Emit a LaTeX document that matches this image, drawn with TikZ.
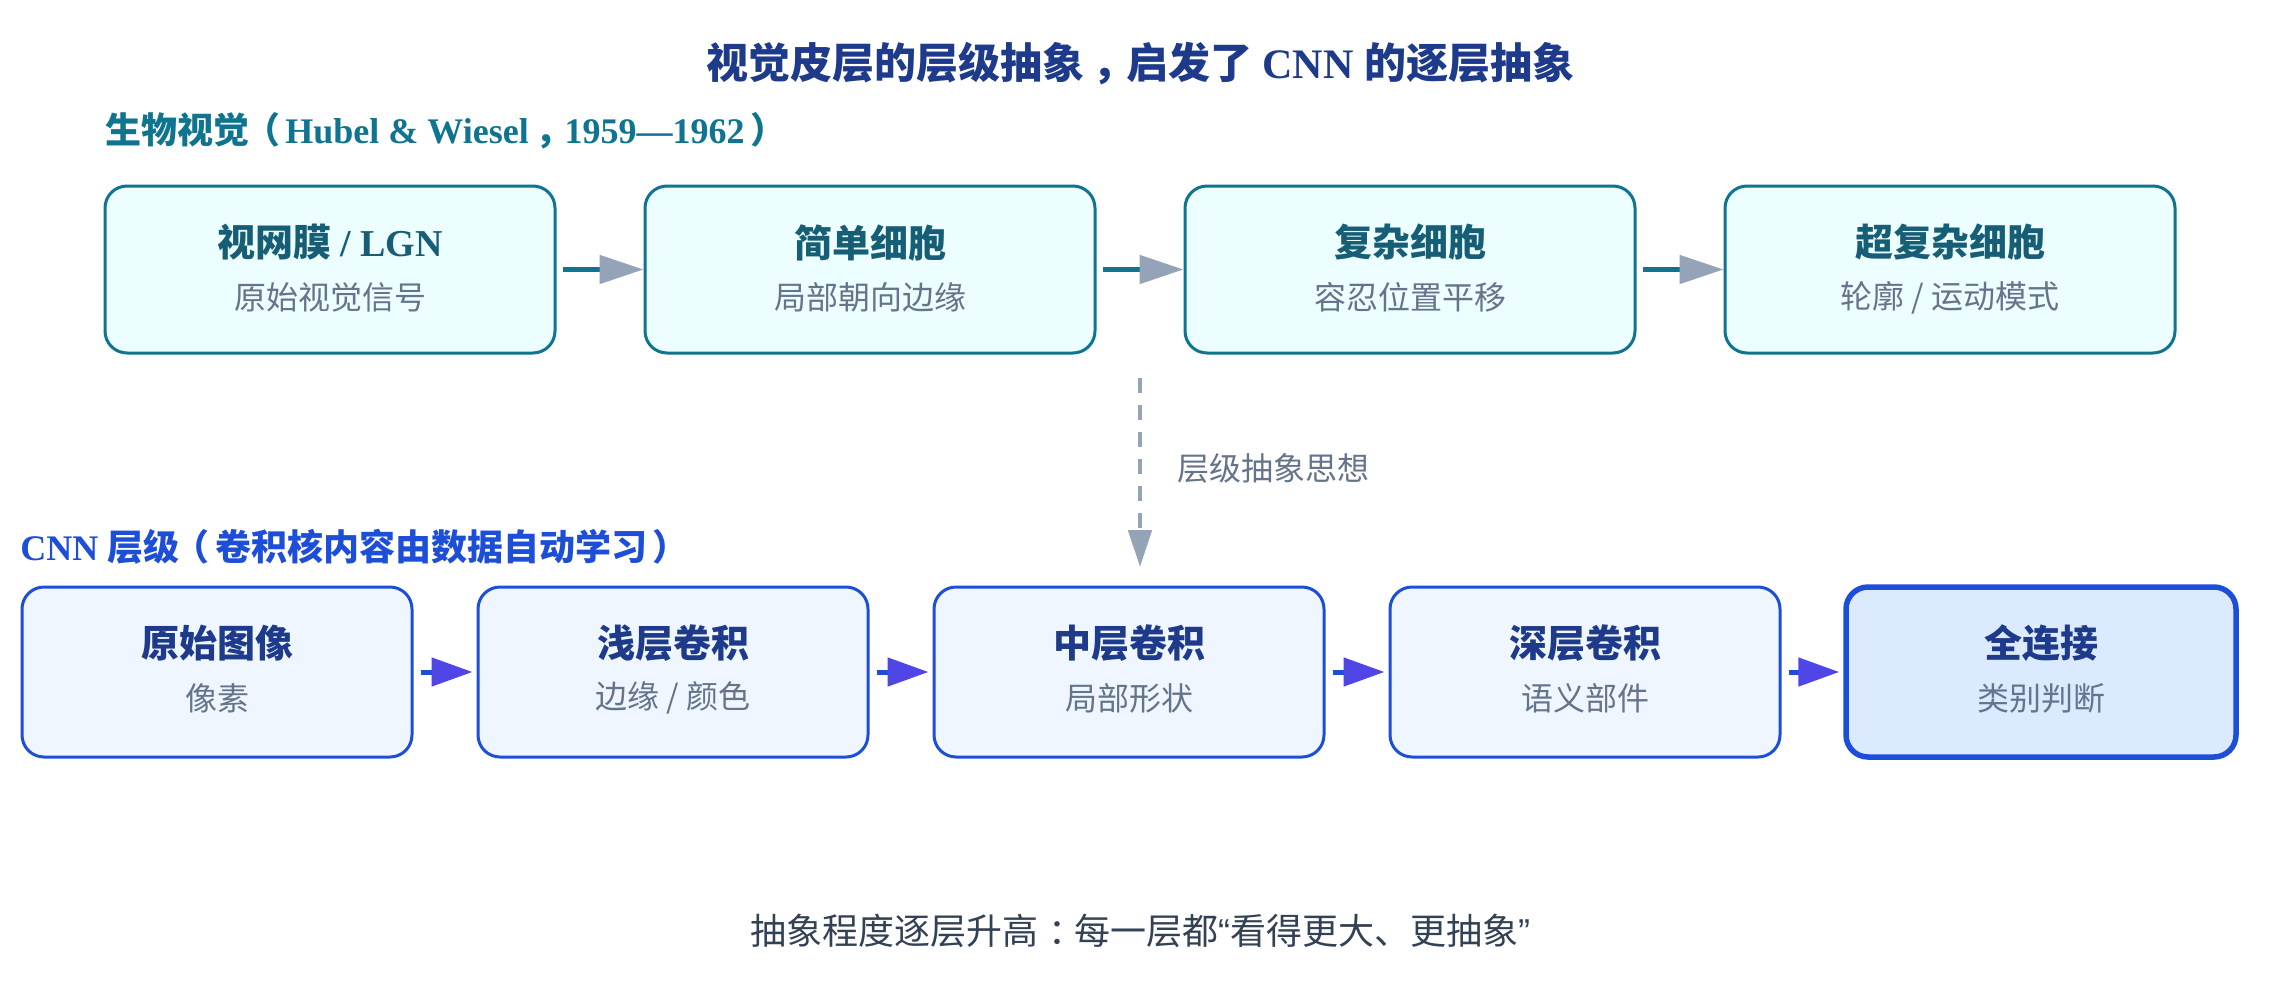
\documentclass[tikz,border=0pt]{standalone}
\usepackage{fontspec}
\setmainfont{Liberation Serif}
\newfontfamily\cjk{Noto Sans CJK SC}
\newfontfamily\lat{Liberation Sans}
\usepackage{tikz}
\usetikzlibrary{arrows.meta,positioning}
\definecolor{titleblue}{HTML}{1E3A8A}
\definecolor{bioline}{HTML}{0E7490}
\definecolor{biotext}{HTML}{155E75}
\definecolor{biofill}{HTML}{ECFEFF}
\definecolor{cnnline}{HTML}{1D4ED8}
\definecolor{cnnfill}{HTML}{EFF6FF}
\definecolor{cnnlast}{HTML}{DBEAFE}
\definecolor{subgray}{HTML}{64748B}
\definecolor{headgray}{HTML}{94A3B8}
\definecolor{headindigo}{HTML}{4F46E5}
\definecolor{footer}{HTML}{334155}
\newcommand{\zh}[1]{{\cjk #1}}
% centre full-width punctuation in its box
\newcommand{\pl}[2][.2em]{{\cjk\hspace{#1}#2\hspace{-#1}}}
\newcommand{\pr}[2][.15em]{{\cjk\hspace{-#1}#2\hspace{#1}}}
\tikzset{
  bio/.style={draw=bioline, fill=biofill, line width=1.5pt, rounded corners=11pt,
    minimum width=225pt, minimum height=83.5pt, inner sep=0pt},
  cnn/.style={draw=cnnline, fill=cnnfill, line width=1.5pt, rounded corners=11pt,
    minimum width=195pt, minimum height=85pt, inner sep=0pt},
  cnnend/.style={cnn, fill=cnnlast, line width=2.75pt},
  boxttl/.style={inner sep=0pt, font=\fontsize{19pt}{22pt}\selectfont\bfseries},
  boxsub/.style={inner sep=0pt, text=subgray, font=\cjk\fontsize{16pt}{19pt}\selectfont},
  sect/.style={anchor=west, inner sep=0pt, font=\fontsize{18pt}{21pt}\selectfont\bfseries},
  bioarr/.style={draw=bioline, line width=2.5pt, shorten <=3pt,
    -{Triangle[length=22pt,width=14pt,color=headgray]}},
  cnnarr/.style={draw=cnnline, line width=2.5pt, shorten <=3.5pt, shorten >=2pt,
    -{Triangle[length=20.5pt,width=14pt,color=headindigo]}},
  hint/.style={draw=headgray, line width=2.4pt, dash pattern=on 7.5pt off 6pt,
    -{Triangle[length=18.5pt,width=11.5pt]}}
}

\begin{document}
\begin{tikzpicture}[x=0.5pt, y=-0.5pt]
  \fill[white] (0,0) rectangle (2280,990);
  \useasboundingbox (0,0) rectangle (2280,990);

  % title
  \node[inner sep=0pt, text=titleblue, font=\fontsize{21pt}{24pt}\selectfont\bfseries] (title) at (1140,64)
    {\zh{视觉皮层的层级抽象}\pl{，}\zh{启发了} CNN \zh{的逐层抽象}};

  % biological row
  \node[sect, text=bioline] (biolab) at (105,131)
    {\zh{生物视觉}\pr{（}Hubel \& Wiesel\pl{，}1959—1962\pl[.15em]{）}};

  \node[bio] (ret) at (330,269.5) {};
  \node[bio] (simple) at (870,269.5) {};
  \node[bio] (complex) at (1410,269.5) {};
  \node[bio] (hyper) at (1950,269.5) {};

  \node[boxttl, text=biotext] (ret-t) at ([yshift=13.5pt]ret.center) {\zh{视网膜} / LGN};
  \node[boxsub] (ret-s) at ([yshift=-14pt]ret.center) {原始视觉信号};
  \node[boxttl, text=biotext] (simple-t) at ([yshift=13.5pt]simple.center) {\zh{简单细胞}};
  \node[boxsub] (simple-s) at ([yshift=-14pt]simple.center) {局部朝向边缘};
  \node[boxttl, text=biotext] (complex-t) at ([yshift=13.5pt]complex.center) {\zh{复杂细胞}};
  \node[boxsub] (complex-s) at ([yshift=-14pt]complex.center) {容忍位置平移};
  \node[boxttl, text=biotext] (hyper-t) at ([yshift=13.5pt]hyper.center) {\zh{超复杂细胞}};
  \node[boxsub] (hyper-s) at ([yshift=-14pt]hyper.center) {轮廓 / 运动模式};

  \draw[bioarr] (ret) -- (simple);
  \draw[bioarr] (simple) -- (complex);
  \draw[bioarr] (complex) -- (hyper);

  % inspiration
  \coordinate (idea-s) at (1140,378);
  \coordinate (idea-e) at (1140,567);
  \draw[hint] (idea-s) -- (idea-e);
  \node[boxsub, anchor=west] (idea) at (1177,468) {层级抽象思想};

  % cnn row
  \node[sect, text=cnnline] (cnnlab) at (20,547)
    {CNN \zh{层级}\pr{（}\zh{卷积核内容由数据自动学习}\pl[.15em]{）}};

  \node[cnn] (pix) at (217,672) {};
  \node[cnn] (shallow) at (673,672) {};
  \node[cnn] (mid) at (1129,672) {};
  \node[cnn] (deep) at (1585,672) {};
  \node[cnnend] (fc) at (2041,672) {};

  \node[boxttl, text=titleblue] (pix-t) at ([yshift=14.5pt]pix.center) {\zh{原始图像}};
  \node[boxsub] (pix-s) at ([yshift=-13pt]pix.center) {像素};
  \node[boxttl, text=titleblue] (shallow-t) at ([yshift=14.5pt]shallow.center) {\zh{浅层卷积}};
  \node[boxsub] (shallow-s) at ([yshift=-13pt]shallow.center) {边缘 / 颜色};
  \node[boxttl, text=titleblue] (mid-t) at ([yshift=14.5pt]mid.center) {\zh{中层卷积}};
  \node[boxsub] (mid-s) at ([yshift=-13pt]mid.center) {局部形状};
  \node[boxttl, text=titleblue] (deep-t) at ([yshift=14.5pt]deep.center) {\zh{深层卷积}};
  \node[boxsub] (deep-s) at ([yshift=-13pt]deep.center) {语义部件};
  \node[boxttl, text=titleblue] (fc-t) at ([yshift=14.5pt]fc.center) {\zh{全连接}};
  \node[boxsub] (fc-s) at ([yshift=-13pt]fc.center) {类别判断};

  \draw[cnnarr] (pix) -- (shallow);
  \draw[cnnarr] (shallow) -- (mid);
  \draw[cnnarr] (mid) -- (deep);
  \draw[cnnarr] (deep) -- (fc);

  % footer
  \node[inner sep=0pt, text=footer, font=\cjk\fontsize{18pt}{21pt}\selectfont] (note) at (1140,931)
    {抽象程度逐层升高\pl[.3em]{：}每一层都{\lat “}看得更大、更抽象{\lat ”}};
\end{tikzpicture}
\end{document}
